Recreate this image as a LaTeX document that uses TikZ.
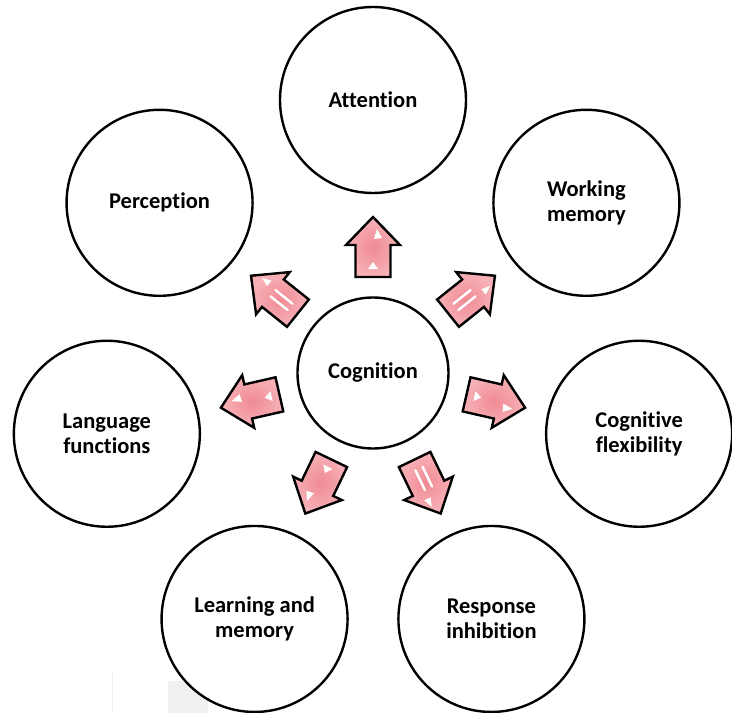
\documentclass[tikz,border=0pt]{standalone}
\usepackage{fontspec}
\setmainfont[Ligatures=NoCommon]{Carlito}
\usetikzlibrary{calc}
\definecolor{pinkdeep}{RGB}{240,138,148}
\definecolor{pinklight}{RGB}{247,178,184}
\begin{document}
\begin{tikzpicture}[x=1pt,y=1pt,
  outer/.style={circle, draw=black, line width=2.4pt, fill=white,
    minimum size=186pt, inner sep=0pt, align=center,
    font=\bfseries\fontsize{22.5}{25}\selectfont},
  hub/.style={outer, minimum size=151pt},
  arrowbody/.style={draw=black, line width=2.4pt, line join=miter,
    inner color=pinkdeep, outer color=pinklight},
  glint/.style={fill=white, draw=none},
  stripe/.style={draw=white, line width=2.4pt, line cap=round},
  pics/blockarrow/.style={code={
    \path[arrowbody] (-30,-17.5) -- (2,-17.5) -- (2,-27) -- (30,0)
      -- (2,27) -- (2,17.5) -- (-30,17.5) -- cycle;
    \fill[glint] (8,-1) -- (18,-4) -- (9,-9) -- cycle;
    \fill[glint] (-22,-5) -- (-15,0) -- (-22,5) -- cycle;
  }},
  pics/stripedarrow/.style={code={
    \path[arrowbody] (-30,-17.5) -- (2,-17.5) -- (2,-27) -- (30,0)
      -- (2,27) -- (2,17.5) -- (-30,17.5) -- cycle;
    \fill[glint] (11,-2) -- (20,-5) -- (11,-9) -- cycle;
    \draw[stripe] (-20,-4) -- (2,-4);
    \draw[stripe] (-20,4) -- (2,4);
  }}
]
\useasboundingbox (-373,-340) rectangle (359,373);

% faint marks near the lower left corner
\fill[gray!12] (-205,-308) rectangle (-165,-340);
\draw[gray!15, line width=1pt] (-260,-300) -- (-260,-340);

% central concept and the seven surrounding functions
\node[hub] (cog) at (0,0) {Cognition};
\node[outer] (att) at (90:273) {Attention};
\node[outer] (per) at (141.43:273) {Perception};
\node[outer] (lan) at (192.86:273) {Language\\functions};
\node[outer] (lea) at (244.29:273) {Learning and\\memory};
\node[outer] (res) at (295.71:273) {Response\\inhibition};
\node[outer] (fle) at (347.14:273) {Cognitive\\flexibility};
\node[outer] (wm)  at (38.57:273) {Working\\memory};

% block arrows pointing outwards from the hub
\foreach \t/\a in {att/90, lan/192.86, lea/244.29, fle/347.14}
  \pic[rotate=\a] at ($(cog.center)!126pt!(\t.center)$) {blockarrow};
\foreach \t/\a in {per/141.43, res/295.71, wm/38.57}
  \pic[rotate=\a] at ($(cog.center)!126pt!(\t.center)$) {stripedarrow};
\end{tikzpicture}
\end{document}
